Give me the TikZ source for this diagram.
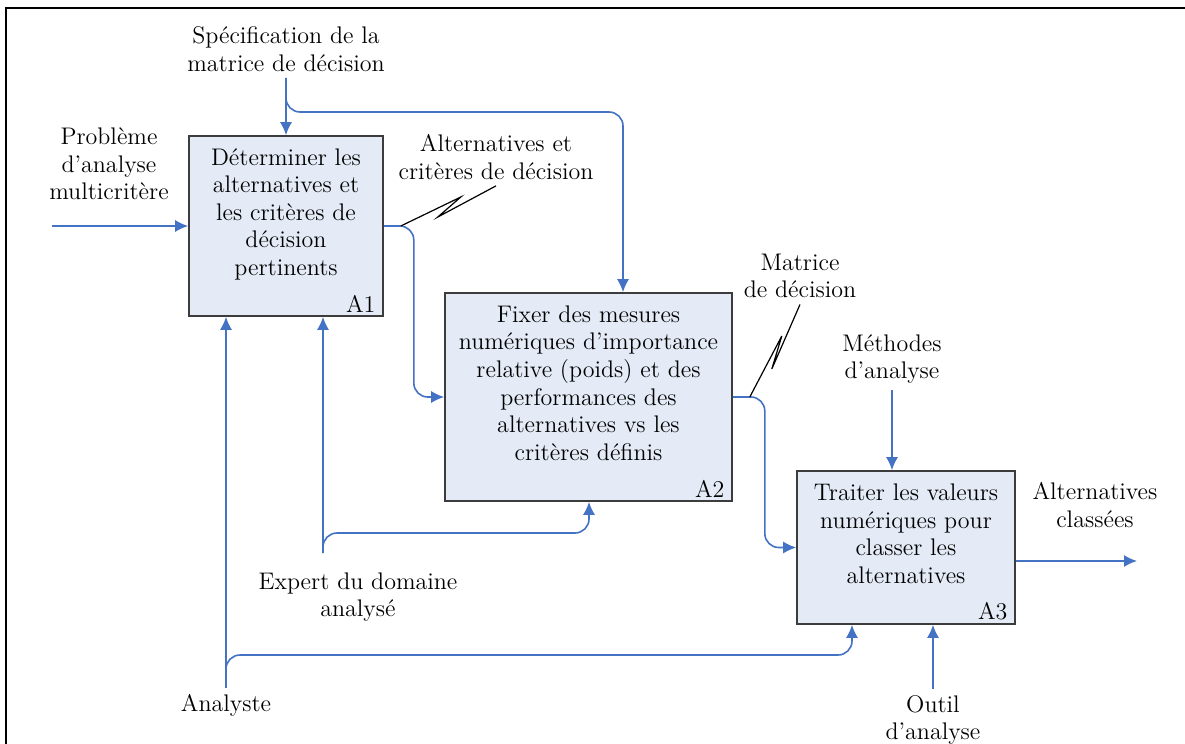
\documentclass[tikz,border=0pt]{standalone}
\usetikzlibrary{calc,arrows.meta}
\definecolor{flowblue}{RGB}{68,114,196}
\definecolor{boxfill}{RGB}{228,235,246}
\definecolor{boxline}{RGB}{60,60,60}
\begin{document}
\begin{tikzpicture}[>={Latex[length=6.5pt,width=6pt]}, x=0.5pt, y=-0.5pt,
  every node/.style={font=\fontsize{12}{13.8}\selectfont, text=black},
  box/.style={draw=boxline, line width=0.8pt, fill=boxfill, align=center, text depth=14pt},
  lbl/.style={align=center, inner sep=3pt},
  tag/.style={anchor=south east, inner xsep=4pt, inner ysep=2pt},
  flow/.style={->, flowblue, line width=0.8pt, rounded corners=7pt},
  squig/.style={black, line width=0.6pt}]
\useasboundingbox (0,0) rectangle (1185,744);
% cadre
\draw[line width=1pt] (1185,8) -- (6,8) -- (6,744);
% activites
\node[box, minimum width=97pt, minimum height=90pt, label={[tag]south east:A1}] (a1) at (286,226)
  {Déterminer les\\alternatives et\\les critères de\\décision\\pertinents};
\node[box, minimum width=143.5pt, minimum height=104pt, label={[tag]south east:A2}] (a2) at (588.5,397)
  {Fixer des mesures\\numériques d’importance\\relative (poids) et des\\performances des\\alternatives vs les\\critères définis};
\node[box, minimum width=109pt, minimum height=76.5pt, label={[tag]south east:A3}] (a3) at (906,547.5)
  {Traiter les valeurs\\numériques pour\\classer les\\alternatives};
% etiquettes
\node[lbl] (spec) at (286,49) {Spécification de la\\matrice de décision};
\node[lbl] (prob) at (109,164) {Problème\\d’analyse\\multicritère};
\node[lbl] (alt1) at (496,157) {Alternatives et\\critères de décision};
\node[lbl] (mat) at (800,276) {Matrice\\de décision};
\node[lbl] (meth) at (892,359) {Méthodes\\d’analyse};
\node[lbl] (out) at (1095,505) {Alternatives\\classées};
\node[lbl] (outil) at (933,720) {Outil\\d’analyse};
\node[lbl] (analyste) at (226,705) {Analyste};
\node[lbl] (expert) at (358,597) {Expert du domaine\\analysé};
% entree et controles
\coordinate (probin) at (52,226);
\draw[flow] (probin) -- (a1.west);
\coordinate (specbus) at (623,112);
\draw[flow] (spec.south) -- (a1.north);
\draw[flow] (spec.south) |- (specbus) -- (specbus |- a2.north);
\draw[flow] (meth.south) -- (meth.south |- a3.north);
% sorties
\draw[flow] (a1.east) -- ++(30,0) |- (a2.west);
\draw[flow] (a2.east) -- ++(32,0) |- (a3.west);
\coordinate (outend) at (1137,561);
\draw[flow] (a3.east |- outend) -- (outend);
% mecanismes
\draw[flow] (outil.north) -- (outil.north |- a3.south);
\coordinate (anbus) at (852,655);
\draw[flow] (analyste.north) -- (analyste.north |- a1.south);
\draw[flow] (analyste.north) |- (anbus) -- (anbus |- a3.south);
\coordinate (expfoot) at (323,553);
\coordinate (expbus) at (589,533);
\draw[flow] (expfoot) -- (expfoot |- a1.south);
\draw[flow] (expfoot) |- (expbus) -- (expbus |- a2.south);
% renvois
\draw[squig] ($(a1.east)+(17,0)$) -- +(60,-29) -- +(37,-9) -- (alt1.south);
\draw[squig] ($(a2.east)+(17,0)$) -- +(32,-61) -- +(22,-28) -- (mat.south);
\end{tikzpicture}
\end{document}
